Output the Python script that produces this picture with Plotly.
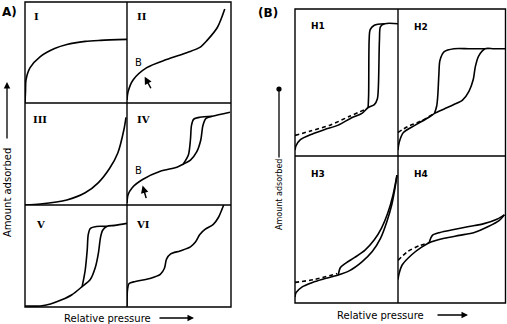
import plotly.graph_objects as go

# ---------------- data (normalised panel coordinates) ----------------
I_x = [0.0, 0.005, 0.01, 0.05, 0.15, 0.29, 0.41, 0.59, 0.74, 1.0]
I_y = [0.0, 0.12, 0.23, 0.35, 0.46, 0.54, 0.58, 0.61, 0.62, 0.63]

II_x = [0.0, 0.01, 0.06, 0.19, 0.38, 0.58, 0.70, 0.77, 0.87, 0.94]
II_y = [0.03, 0.11, 0.23, 0.35, 0.43, 0.50, 0.55, 0.62, 0.75, 0.93]

III_x = [0.0, 0.15, 0.41, 0.59, 0.72, 0.83, 0.91, 0.97, 0.99]
III_y = [0.0, 0.01, 0.05, 0.12, 0.22, 0.36, 0.51, 0.74, 0.86]

IV_ads_x = [0.0, 0.01, 0.05, 0.15, 0.32, 0.48, 0.54, 0.61, 0.67, 0.71, 0.73, 0.76, 0.82, 0.99]
IV_ads_y = [0.02, 0.10, 0.17, 0.25, 0.33, 0.37, 0.40, 0.44, 0.52, 0.64, 0.78, 0.85, 0.87, 0.91]
IV_des_x = [0.54, 0.59, 0.61, 0.62, 0.64, 0.70, 0.82]
IV_des_y = [0.40, 0.49, 0.64, 0.78, 0.84, 0.86, 0.87]

V_ads_x = [0.0, 0.15, 0.25, 0.36, 0.46, 0.56, 0.64, 0.69, 0.72, 0.74, 0.76, 0.80, 0.88, 1.0]
V_ads_y = [0.01, 0.01, 0.03, 0.07, 0.12, 0.20, 0.27, 0.39, 0.53, 0.68, 0.75, 0.79, 0.80, 0.82]
V_des_x = [0.56, 0.59, 0.61, 0.62, 0.64, 0.70, 0.80]
V_des_y = [0.20, 0.36, 0.56, 0.71, 0.77, 0.79, 0.79]

VI_x = [0.0, 0.005, 0.02, 0.08, 0.22, 0.32, 0.36, 0.38, 0.42, 0.51, 0.61, 0.66, 0.70, 0.75, 0.83, 0.88, 0.91, 0.93]
VI_y = [0.01, 0.17, 0.23, 0.25, 0.28, 0.32, 0.38, 0.47, 0.52, 0.55, 0.59, 0.64, 0.71, 0.76, 0.81, 0.88, 0.95, 1.0]

H1_ads_x = [0.0, 0.01, 0.05, 0.17, 0.29, 0.42, 0.55, 0.65, 0.71, 0.77, 0.80, 0.81, 0.82, 0.83, 0.87, 1.0]
H1_ads_y = [0.04, 0.07, 0.11, 0.15, 0.18, 0.21, 0.26, 0.29, 0.33, 0.35, 0.39, 0.48, 0.79, 0.88, 0.90, 0.90]
H1_des_x = [0.71, 0.715, 0.72, 0.73, 0.77, 0.87]
H1_des_y = [0.33, 0.42, 0.79, 0.86, 0.89, 0.90]
H1_dash_x = [0.0, 0.15, 0.34, 0.53, 0.69]
H1_dash_y = [0.14, 0.17, 0.21, 0.27, 0.32]

H2_ads_x = [0.0, 0.01, 0.05, 0.16, 0.28, 0.34, 0.43, 0.52, 0.60, 0.66, 0.70, 0.72, 0.75, 0.81, 0.89, 1.0]
H2_ads_y = [0.04, 0.09, 0.16, 0.21, 0.26, 0.29, 0.32, 0.35, 0.38, 0.44, 0.52, 0.61, 0.68, 0.73, 0.73, 0.73]
H2_des_x = [0.34, 0.36, 0.37, 0.38, 0.39, 0.43, 0.52, 0.66, 0.81]
H2_des_y = [0.29, 0.34, 0.41, 0.55, 0.65, 0.71, 0.73, 0.73, 0.73]
H2_dash_x = [0.0, 0.09, 0.22, 0.34]
H2_dash_y = [0.16, 0.20, 0.24, 0.29]

H3_ads_x = [0.0, 0.01, 0.07, 0.17, 0.26, 0.42, 0.53, 0.65, 0.75, 0.83, 0.89, 0.94, 0.98, 0.99]
H3_ads_y = [0.04, 0.07, 0.11, 0.14, 0.16, 0.19, 0.22, 0.28, 0.35, 0.44, 0.55, 0.67, 0.82, 0.87]
H3_des_x = [0.42, 0.44, 0.49, 0.58, 0.68, 0.77, 0.84, 0.90, 0.95, 0.99]
H3_des_y = [0.19, 0.24, 0.27, 0.31, 0.36, 0.43, 0.51, 0.61, 0.73, 0.87]
H3_dash_x = [0.0, 0.19, 0.41]
H3_dash_y = [0.14, 0.16, 0.20]

H4_ads_x = [0.0, 0.01, 0.04, 0.13, 0.22, 0.29, 0.43, 0.57, 0.71, 0.84, 0.94, 0.99]
H4_ads_y = [0.16, 0.20, 0.26, 0.33, 0.38, 0.41, 0.44, 0.46, 0.48, 0.52, 0.56, 0.60]
H4_des_x = [0.29, 0.32, 0.39, 0.52, 0.66, 0.80, 0.92, 0.99]
H4_des_y = [0.41, 0.46, 0.48, 0.50, 0.52, 0.54, 0.57, 0.60]
H4_dash_x = [0.0, 0.09, 0.20, 0.29]
H4_dash_y = [0.29, 0.35, 0.39, 0.41]

panel_labels_A = ["I", "II", "III", "IV", "V", "VI"]
panel_labels_B = ["H1", "H2", "H3", "H4"]

# ---------------- layout geometry ----------------
W, H = 507, 324
def px(x):
    return x / W
def py(y):
    return 1 - y / H

# panel boxes in pixels: (x0, x1, y0, y1)
boxes = {
    1: (25, 127, 2, 103), 2: (127, 231, 2, 103),
    3: (25, 127, 103, 205), 4: (127, 231, 103, 205),
    5: (25, 127, 205, 307), 6: (127, 231, 205, 307),
    7: (295, 398, 9, 156), 8: (398, 505.5, 9, 156),
    9: (295, 398, 156, 303), 10: (398, 505.5, 156, 303),
}

fig = go.Figure()
layout = dict(width=W, height=H, margin=dict(l=0, r=0, t=0, b=0),
              paper_bgcolor="white", plot_bgcolor="rgba(0,0,0,0)", showlegend=False)

for k, (x0, x1, y0, y1) in boxes.items():
    s = "" if k == 1 else str(k)
    ax_common = dict(range=[0, 1], showgrid=False, zeroline=False, showticklabels=False,
                     ticks="", showline=False, fixedrange=True)
    layout["xaxis" + s] = dict(domain=[px(x0), px(x1)], anchor="y" + s, **ax_common)
    layout["yaxis" + s] = dict(domain=[py(y1), py(y0)], anchor="x" + s, **ax_common)

def add(k, xs, ys, dash="solid"):
    s = "" if k == 1 else str(k)
    fig.add_trace(go.Scatter(x=xs, y=ys, mode="lines", xaxis="x" + s, yaxis="y" + s,
                             line=dict(color="black", width=1.6, shape="spline",
                                       smoothing=0.8, dash=dash),
                             hoverinfo="skip"))

add(1, I_x, I_y)
add(2, II_x, II_y)
add(3, III_x, III_y)
add(4, IV_ads_x, IV_ads_y)
add(4, IV_des_x, IV_des_y)
add(5, V_ads_x, V_ads_y)
add(5, V_des_x, V_des_y)
add(6, VI_x, VI_y)
add(7, H1_ads_x, H1_ads_y)
add(7, H1_des_x, H1_des_y)
add(7, H1_dash_x, H1_dash_y, "4px,3px")
add(8, H2_ads_x, H2_ads_y)
add(8, H2_des_x, H2_des_y)
add(8, H2_dash_x, H2_dash_y, "4px,3px")
add(9, H3_ads_x, H3_ads_y)
add(9, H3_des_x, H3_des_y)
add(9, H3_dash_x, H3_dash_y, "4px,3px")
add(10, H4_ads_x, H4_ads_y)
add(10, H4_des_x, H4_des_y)
add(10, H4_dash_x, H4_dash_y, "4px,3px")

# frames drawn as single lines (no doubled shared edges)
shapes = []
lw = 1.4
def line(x0, y0, x1, y1):
    shapes.append(dict(type="line", xref="paper", yref="paper",
                       x0=px(x0), y0=py(y0), x1=px(x1), y1=py(y1),
                       line=dict(color="black", width=lw)))
def rect(x0, y0, x1, y1):
    shapes.append(dict(type="rect", xref="paper", yref="paper",
                       x0=px(x0), y0=py(y0), x1=px(x1), y1=py(y1),
                       line=dict(color="black", width=lw), fillcolor="rgba(0,0,0,0)"))
rect(25, 2, 231, 307)
line(127, 2, 127, 307)
line(25, 103, 231, 103)
line(25, 205, 231, 205)
rect(295, 9, 505.5, 303)
line(398, 9, 398, 303)
line(295, 156, 505.5, 156)

ann = []
sans = "DejaVu Sans"
serif = "DejaVu Serif"

# panel letters
ann.append(dict(text="<b>A)</b>", x=px(0), y=py(12), xref="paper", yref="paper",
                xanchor="left", yanchor="middle", showarrow=False,
                font=dict(family=sans, size=12, color="black")))
ann.append(dict(text="<b>(B)</b>", x=px(256), y=py(13), xref="paper", yref="paper",
                xanchor="left", yanchor="middle", showarrow=False,
                font=dict(family=sans, size=12, color="black")))

# roman numerals
num_pos = [(36, 16), (142, 16), (40, 119), (143, 119), (40, 224), (143, 224)]
for lab, (x, y) in zip(panel_labels_A, num_pos):
    ann.append(dict(text="<b>" + lab + "</b>", x=px(x), y=py(y), xref="paper", yref="paper",
                    xanchor="center", yanchor="middle", showarrow=False,
                    font=dict(family=serif, size=10, color="black")))

hpos = [(318, 26), (421, 27), (318, 174), (421, 174)]
for lab, (x, y) in zip(panel_labels_B, hpos):
    ann.append(dict(text="<b>" + lab + "</b>", x=px(x), y=py(y), xref="paper", yref="paper",
                    xanchor="center", yanchor="middle", showarrow=False,
                    font=dict(family=sans, size=9, color="black")))

# B point labels and arrows
ann.append(dict(text="B", x=0.11, y=0.40, xref="x2", yref="y2", showarrow=False,
                font=dict(family=sans, size=10, color="black")))
ann.append(dict(text="", x=0.17, y=0.26, xref="x2", yref="y2", showarrow=True,
                ax=7, ay=13, arrowhead=2, arrowsize=1, arrowwidth=1.5, arrowcolor="black"))
ann.append(dict(text="B", x=0.11, y=0.34, xref="x4", yref="y4", showarrow=False,
                font=dict(family=sans, size=10, color="black")))
ann.append(dict(text="", x=0.15, y=0.19, xref="x4", yref="y4", showarrow=True,
                ax=4, ay=14, arrowhead=2, arrowsize=1, arrowwidth=1.5, arrowcolor="black"))

# axis titles A
ann.append(dict(text="Relative pressure", x=px(62), y=py(318), xref="paper", yref="paper",
                xanchor="left", yanchor="middle", showarrow=False,
                font=dict(family=sans, size=10, color="black")))
ann.append(dict(text="", x=px(194), y=py(318), xref="paper", yref="paper", showarrow=True,
                ax=-36, ay=0, arrowhead=2, arrowsize=1, arrowwidth=1.3, arrowcolor="black"))
ann.append(dict(text="Amount adsorbed", x=px(7), y=py(193), xref="paper", yref="paper",
                xanchor="center", yanchor="middle", textangle=-90, showarrow=False,
                font=dict(family=sans, size=10, color="black")))
ann.append(dict(text="", x=px(7), y=py(82), xref="paper", yref="paper", showarrow=True,
                ax=0, ay=58, arrowhead=2, arrowsize=1, arrowwidth=1.3, arrowcolor="black"))

# axis titles B
ann.append(dict(text="Relative pressure", x=px(335), y=py(315), xref="paper", yref="paper",
                xanchor="left", yanchor="middle", showarrow=False,
                font=dict(family=sans, size=10, color="black")))
ann.append(dict(text="", x=px(468), y=py(315), xref="paper", yref="paper", showarrow=True,
                ax=-32, ay=0, arrowhead=2, arrowsize=1, arrowwidth=1.3, arrowcolor="black"))
ann.append(dict(text="Amount adsorbed", x=px(279), y=py(195), xref="paper", yref="paper",
                xanchor="center", yanchor="middle", textangle=-90, showarrow=False,
                font=dict(family=sans, size=8, color="black")))
ann.append(dict(text="", x=px(279), y=py(89), xref="paper", yref="paper", showarrow=True,
                ax=0, ay=70, arrowhead=6, arrowsize=1, arrowwidth=1.3, arrowcolor="black"))

layout["annotations"] = ann
layout["shapes"] = shapes
fig.update_layout(**layout)
fig.write_html("out.html")
